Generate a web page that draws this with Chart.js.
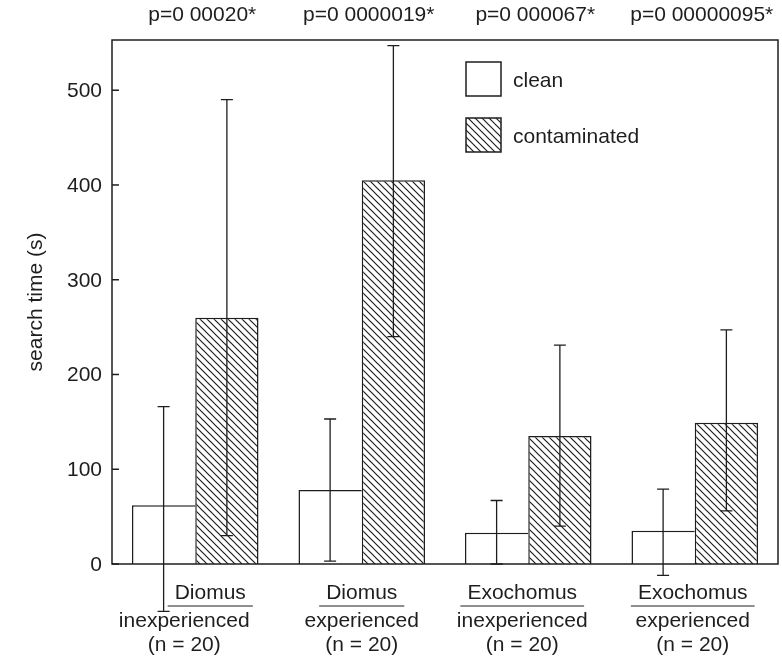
<!DOCTYPE html>
<html>
<head>
<meta charset="utf-8">
<script src="https://cdn.jsdelivr.net/npm/chart.js@4.4.1/dist/chart.umd.min.js"></script>
<style>
    html, body { margin: 0; padding: 0; background: #fff; }
</style>
</head>
<body>
<canvas id="search_time_chart" width="782" height="661"></canvas>
<script>
var species = ['Diomus', 'Diomus', 'Exochomus', 'Exochomus'];
var experience = ['inexperienced', 'experienced', 'inexperienced', 'experienced'];
var sampleSizes = ['(n = 20)', '(n = 20)', '(n = 20)', '(n = 20)'];
var pValues = ['p=0 00020*', 'p=0 0000019*', 'p=0 000067*', 'p=0 00000095*'];

var cleanMeans = [62, 78, 33, 35];
var cleanLow = [-50, 3, 0, -12];
var cleanHigh = [166, 153, 67, 79];

var contaminatedMeans = [260, 405, 135, 149];
var contaminatedLow = [30, 240, 40, 56];
var contaminatedHigh = [490, 547, 231, 247];

var yTicks = [0, 100, 200, 300, 400, 500];
var yMax = 553;

var ink = '#1e1e1e';
var font = '21px "Liberation Sans", Arial, sans-serif';

function makeHatch() {
    var size = 7;
    var c = document.createElement('canvas');
    c.width = size;
    c.height = size;
    var g = c.getContext('2d');
    g.fillStyle = '#fff';
    g.fillRect(0, 0, size, size);
    g.strokeStyle = ink;
    g.lineWidth = 1.2;
    g.beginPath();
    g.moveTo(-1, -1); g.lineTo(size + 1, size + 1);
    g.moveTo(-1, size - 1); g.lineTo(1, size + 1);
    g.moveTo(size - 1, -1); g.lineTo(size + 1, 1);
    g.stroke();
    return g.createPattern(c, 'repeat');
}

// frame, ticks, error bars, labels and legend are drawn here
const figurePlugin = {
    id: 'figure',
    afterDatasetsDraw(chart) {
        const ctx = chart.ctx;
        const area = chart.chartArea;
        const y = chart.scales.y;
        const x = chart.scales.x;

        ctx.save();
        ctx.strokeStyle = ink;
        ctx.fillStyle = ink;
        ctx.lineWidth = 1.5;
        ctx.strokeRect(area.left, area.top, area.right - area.left, area.bottom - area.top);

        // y ticks (inward) and labels
        ctx.font = font;
        ctx.textAlign = 'right';
        ctx.textBaseline = 'middle';
        yTicks.forEach(v => {
            const py = y.getPixelForValue(v);
            ctx.beginPath();
            ctx.moveTo(area.left, py);
            ctx.lineTo(area.left + 7, py);
            ctx.stroke();
            ctx.fillText(String(v), area.left - 10, py + 1);
        });

        // y title
        ctx.save();
        ctx.translate(36, (area.top + area.bottom) / 2);
        ctx.rotate(-Math.PI / 2);
        ctx.textAlign = 'center';
        ctx.fillText('search time (s)', 0, 0);
        ctx.restore();

        // error bars
        ctx.lineWidth = 1.3;
        [[0, cleanLow, cleanHigh], [1, contaminatedLow, contaminatedHigh]].forEach(set => {
            const meta = chart.getDatasetMeta(set[0]);
            meta.data.forEach((bar, i) => {
                const lo = y.getPixelForValue(set[1][i]);
                const hi = y.getPixelForValue(set[2][i]);
                ctx.beginPath();
                ctx.moveTo(bar.x, lo); ctx.lineTo(bar.x, hi);
                ctx.moveTo(bar.x - 6, lo); ctx.lineTo(bar.x + 6, lo);
                ctx.moveTo(bar.x - 6, hi); ctx.lineTo(bar.x + 6, hi);
                ctx.stroke();
            });
        });

        // p values above the frame
        ctx.textAlign = 'center';
        pValues.forEach((p, i) => {
            ctx.fillText(p, x.getPixelForValue(i) + 7, 15);
        });

        // category labels: species over a rule, then experience and n
        const nudge = [{ top: 15, rest: -11 }, { top: 0, rest: 0 }, { top: -6, rest: -6 }, { top: -2, rest: -2 }];
        ctx.lineWidth = 1.2;
        species.forEach((name, i) => {
            const cx = x.getPixelForValue(i);
            const w = ctx.measureText(name).width + 14;
            ctx.fillText(name, cx + nudge[i].top, area.bottom + 29);
            ctx.beginPath();
            ctx.moveTo(cx + nudge[i].top - w / 2, area.bottom + 42);
            ctx.lineTo(cx + nudge[i].top + w / 2, area.bottom + 42);
            ctx.stroke();
            ctx.fillText(experience[i], cx + nudge[i].rest, area.bottom + 57);
            ctx.fillText(sampleSizes[i], cx + nudge[i].rest, area.bottom + 81);
        });

        // legend
        const lx = area.left + 354;
        chart.data.datasets.forEach((ds, i) => {
            const ly = area.top + 22 + i * 56;
            ctx.fillStyle = ds.backgroundColor;
            ctx.fillRect(lx, ly, 35, 34);
            ctx.lineWidth = 1.5;
            ctx.strokeRect(lx, ly, 35, 34);
            ctx.fillStyle = ink;
            ctx.textAlign = 'left';
            ctx.fillText(ds.label, lx + 47, ly + 19);
        });
        ctx.restore();
    }
};

const chartElement = document.getElementById('search_time_chart');

const searchChart = new Chart(chartElement, {
    type: 'bar',
    data: {
        labels: species,
        datasets: [{
            label: 'clean',
            data: cleanMeans,
            backgroundColor: '#fff',
            borderColor: ink,
            borderWidth: { left: 1.5, top: 1.5, right: 0, bottom: 0 },
            borderSkipped: false,
            categoryPercentage: 0.76,
            barPercentage: 1.0
        }, {
            label: 'contaminated',
            data: contaminatedMeans,
            backgroundColor: makeHatch(),
            borderColor: ink,
            borderWidth: { left: 1.5, top: 1.5, right: 1.5, bottom: 0 },
            borderSkipped: false,
            categoryPercentage: 0.76,
            barPercentage: 1.0
        }]
    },
    options: {
        responsive: false,
        animation: false,
        layout: {
            padding: { top: 40, right: 4, left: 0, bottom: 0 }
        },
        scales: {
            x: {
                grid: { display: false },
                border: { display: false },
                ticks: { display: false },
                afterFit: (scale) => { scale.height = 97; }
            },
            y: {
                min: 0,
                max: yMax,
                grid: { display: false },
                border: { display: false },
                ticks: { display: false },
                afterBuildTicks: (scale) => { scale.ticks = yTicks.map(v => ({ value: v })); },
                afterFit: (scale) => { scale.width = 112; }
            }
        },
        plugins: {
            legend: { display: false },
            tooltip: { enabled: false }
        }
    },
    plugins: [figurePlugin]
});
</script>
</body>
</html>
